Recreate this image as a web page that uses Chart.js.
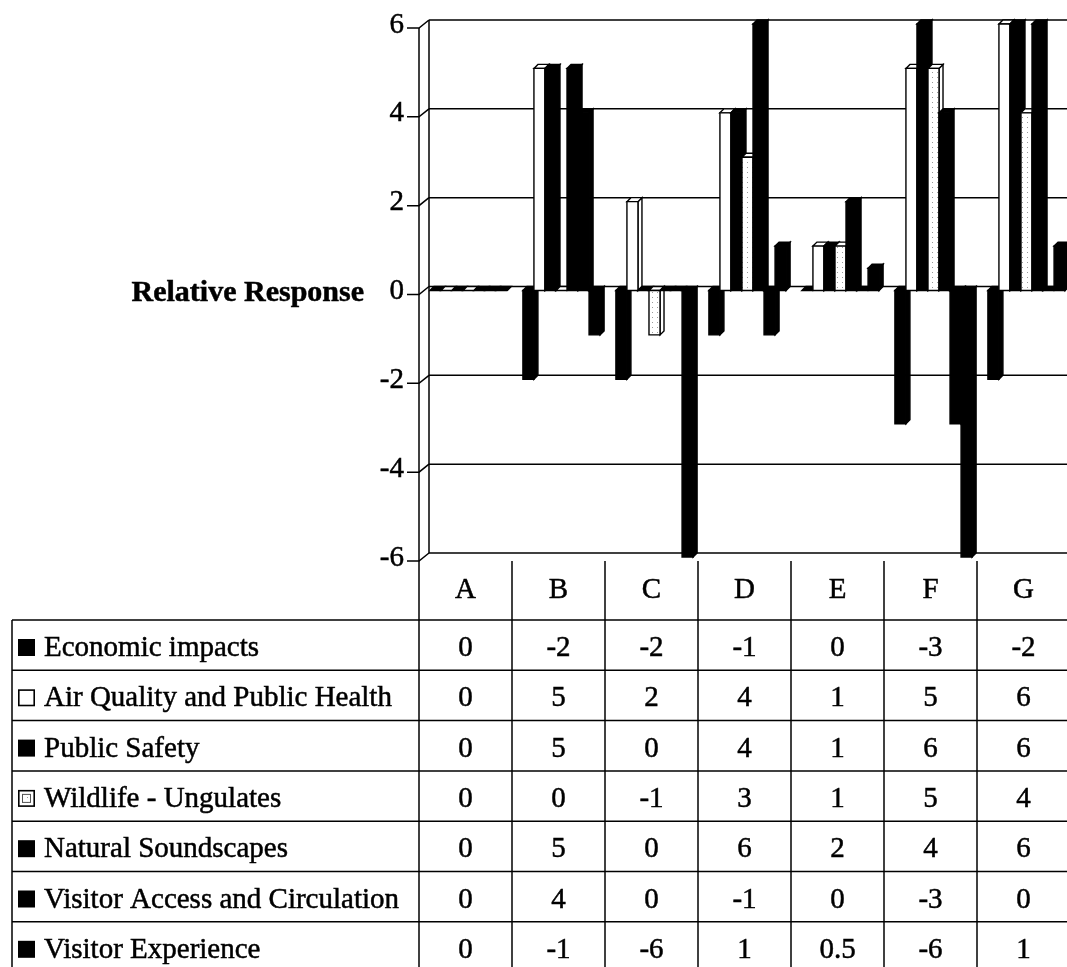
<!DOCTYPE html>
<html>
<head>
<meta charset="utf-8">
<script src="https://cdn.jsdelivr.net/npm/chart.js@4.4.1/dist/chart.umd.min.js"></script>
<style>
  html, body { margin: 0; padding: 0; background: #fff; overflow: hidden; }
  canvas { display: block; }
</style>
</head>
<body>
<canvas id="chart" width="1072" height="967"></canvas>
<script>
// Scenario categories and the response of each impact topic
const categories = ['A', 'B', 'C', 'D', 'E', 'F', 'G'];
const seriesNames = [
  'Economic impacts',
  'Air Quality and Public Health',
  'Public Safety',
  'Wildlife - Ungulates',
  'Natural Soundscapes',
  'Visitor Access and Circulation',
  'Visitor Experience'
];
const economicImpacts    = [0, -2, -2, -1, 0, -3, -2];
const airQuality         = [0, 5, 2, 4, 1, 5, 6];
const publicSafety       = [0, 5, 0, 4, 1, 6, 6];
const wildlifeUngulates  = [0, 0, -1, 3, 1, 5, 4];
const naturalSoundscapes = [0, 5, 0, 6, 2, 4, 6];
const visitorAccess      = [0, 4, 0, -1, 0, -3, 0];
const visitorExperience  = [0, -1, -6, 1, 0.5, -6, 1];
const yTicks = [-6, -4, -2, 0, 2, 4, 6];
const axisTitle = 'Relative Response';

const seriesValues = [economicImpacts, airQuality, publicSafety, wildlifeUngulates,
                      naturalSoundscapes, visitorAccess, visitorExperience];
// fill style per series: 'black', 'white' or 'dots'
const seriesFill = ['black', 'white', 'black', 'dots', 'black', 'black', 'black'];

const FONT = '"Liberation Serif", "Times New Roman", serif';
const DEPTH = 4;       // 3D depth of each column (px, up and to the right)
const WALL = 10;       // horizontal offset between front axis and back wall
const LIFT = 4;        // vertical offset between mid plane and front/back planes

const canvas = document.getElementById('chart');
const ctx = canvas.getContext('2d');

// sparse dotted fill for the ungulates series
const pc = document.createElement('canvas');
pc.width = 5; pc.height = 5;
const pg = pc.getContext('2d');
pg.fillStyle = '#fff'; pg.fillRect(0, 0, 5, 5);
pg.fillStyle = '#9a9a9a'; pg.fillRect(2, 2, 1, 1);
const dotPattern = ctx.createPattern(pc, 'repeat');

function fillFor(kind) {
  if (kind === 'black') return '#000';
  if (kind === 'dots') return dotPattern;
  return '#fff';
}

function poly(c, pts, fill, stroke, lw) {
  c.beginPath();
  c.moveTo(pts[0][0], pts[0][1]);
  for (let i = 1; i < pts.length; i++) c.lineTo(pts[i][0], pts[i][1]);
  c.closePath();
  c.fillStyle = fill;
  c.fill();
  if (stroke) { c.lineWidth = lw; c.strokeStyle = stroke; c.stroke(); }
}

// heavier serif text, like a printed table
function inkText(c, text, x, y) {
  c.fillText(text, x, y);
  c.lineWidth = 0.5;
  c.strokeStyle = '#000';
  c.strokeText(text, x, y);
}

// walls, gridlines, value axis and 3D columns
const chart3d = {
  id: 'chart3d',
  beforeDatasetsDraw(chart) {
    const c = chart.ctx;
    const a = chart.chartArea;
    const ys = chart.scales.y;
    const wallX = a.left + WALL;
    c.save();
    c.lineCap = 'butt';
    c.strokeStyle = '#000';
    c.lineWidth = 1.5;
    // back gridlines
    yTicks.forEach(v => {
      const yb = ys.getPixelForValue(v) - LIFT;
      c.beginPath(); c.moveTo(wallX, yb); c.lineTo(chart.width, yb); c.stroke();
    });
    // back wall edge
    c.beginPath();
    c.moveTo(wallX, ys.getPixelForValue(yTicks[yTicks.length - 1]) - LIFT);
    c.lineTo(wallX, ys.getPixelForValue(yTicks[0]) - LIFT);
    c.stroke();
    // front axis line
    c.beginPath();
    c.moveTo(a.left, ys.getPixelForValue(yTicks[yTicks.length - 1]) + LIFT);
    c.lineTo(a.left, ys.getPixelForValue(yTicks[0]) + LIFT);
    c.stroke();
    // tick marks, slanted connectors to the back wall, and tick labels
    c.font = '29px ' + FONT;
    c.textAlign = 'right';
    c.textBaseline = 'middle';
    c.fillStyle = '#000';
    yTicks.forEach(v => {
      const ym = ys.getPixelForValue(v);
      c.lineWidth = 1.5;
      c.beginPath();
      c.moveTo(a.left - 12, ym + LIFT);
      c.lineTo(a.left, ym + LIFT);
      c.lineTo(wallX, ym - LIFT);
      c.stroke();
      inkText(c, String(v), a.left - 15, ym + 1);
    });

    // columns, drawn series by series so the right neighbour hides each side face
    chart.data.datasets.forEach((ds, di) => {
      const meta = chart.getDatasetMeta(di);
      const kind = seriesFill[di];
      const front = fillFor(kind);
      const face = kind === 'black' ? '#000' : '#fff';
      meta.data.forEach(el => {
        const p = el.getProps(['x', 'y', 'base', 'width'], true);
        const l = p.x - p.width / 2 + 3, r = p.x + p.width / 2 + 3;
        const top = Math.min(p.y, p.base), bot = Math.max(p.y, p.base);
        const d = DEPTH;
        // side face
        poly(c, [[r, top], [r + d, top - d], [r + d, bot - d], [r, bot]], face, '#000', 1.4);
        // top face
        poly(c, [[l, top], [l + d, top - d], [r + d, top - d], [r, top]], face, '#000', 1.4);
        // front face
        if (bot - top > 0) {
          poly(c, [[l, top], [r, top], [r, bot], [l, bot]], front, '#000', 1.4);
        }
      });
    });
    c.restore();
    return false;
  }
};

// axis title and the data table under the plot
const dataTable = {
  id: 'dataTable',
  afterDraw(chart) {
    const c = chart.ctx;
    const a = chart.chartArea;
    const xs = chart.scales.x;
    const ys = chart.scales.y;
    const colW = (a.right - a.left) / categories.length;
    const tableTop = a.bottom + LIFT;
    const headH = 59;
    const rowH = 50.3;
    const bodyTop = tableTop + headH;
    const tableLeft = 12;
    const bottom = chart.height + 2;
    c.save();

    // axis title
    c.fillStyle = '#000';
    c.font = 'bold 30px ' + FONT;
    c.textAlign = 'right';
    c.textBaseline = 'alphabetic';
    inkText(c, axisTitle, 364, ys.getPixelForValue(0) + 10);

    c.strokeStyle = '#000';
    c.lineWidth = 1.5;
    // column separators
    for (let k = 0; k <= categories.length; k++) {
      const x = a.left + k * colW;
      c.beginPath(); c.moveTo(x, tableTop); c.lineTo(x, bottom); c.stroke();
    }
    // left border of the series column
    c.beginPath(); c.moveTo(tableLeft, bodyTop); c.lineTo(tableLeft, bottom); c.stroke();
    // row separators
    for (let r = 0; r < seriesNames.length; r++) {
      const y = bodyTop + r * rowH;
      c.beginPath(); c.moveTo(tableLeft, y); c.lineTo(chart.width, y); c.stroke();
    }

    c.font = '29px ' + FONT;
    c.textAlign = 'center';
    c.fillStyle = '#000';
    // category header
    categories.forEach((cat, j) => {
      inkText(c, cat, xs.getPixelForValue(j), tableTop + 37);
    });
    // series rows
    seriesNames.forEach((name, i) => {
      const top = bodyTop + i * rowH;
      const base = top + 36;
      // legend key
      const kind = seriesFill[i];
      const kx = 18, ky = top + 19, ks = 17;
      if (kind === 'black') {
        c.fillStyle = '#000';
        c.fillRect(kx, ky, ks, ks);
      } else {
        c.fillStyle = '#fff';
        c.fillRect(kx, ky, ks, ks);
        c.lineWidth = 1.6;
        c.strokeStyle = '#000';
        c.strokeRect(kx + 0.8, ky + 0.8, ks - 1.6, ks - 1.6);
        if (kind === 'dots') {
          c.fillStyle = dotPattern;
          c.fillRect(kx + 4, ky + 4, ks - 8, ks - 8);
          c.lineWidth = 1;
          c.strokeStyle = '#555';
          c.strokeRect(kx + 4.5, ky + 4.5, ks - 9, ks - 9);
        }
      }
      c.fillStyle = '#000';
      c.textAlign = 'left';
      inkText(c, name, 44, base);
      c.textAlign = 'center';
      seriesValues[i].forEach((v, j) => {
        inkText(c, String(v), xs.getPixelForValue(j), base);
      });
    });
    c.restore();
  }
};

new Chart(ctx, {
  type: 'bar',
  data: {
    labels: categories,
    datasets: seriesNames.map((name, i) => ({
      label: name,
      data: seriesValues[i],
      backgroundColor: fillFor(seriesFill[i]),
      borderColor: '#000',
      borderWidth: 1
    }))
  },
  options: {
    responsive: false,
    animation: false,
    devicePixelRatio: 1,
    layout: { padding: { top: 24, bottom: 410, left: 0, right: 2 } },
    datasets: { bar: { categoryPercentage: 0.83, barPercentage: 1 } },
    plugins: { legend: { display: false }, tooltip: { enabled: false } },
    scales: {
      x: { display: false },
      y: {
        min: -6,
        max: 6,
        afterBuildTicks: s => { s.ticks = yTicks.map(v => ({ value: v })); },
        afterFit: s => { s.width = 419; s.paddingTop = 0; s.paddingBottom = 0; },
        grid: { display: false, drawTicks: false },
        border: { display: false },
        ticks: { display: false }
      }
    }
  },
  plugins: [chart3d, dataTable]
});
</script>
</body>
</html>
